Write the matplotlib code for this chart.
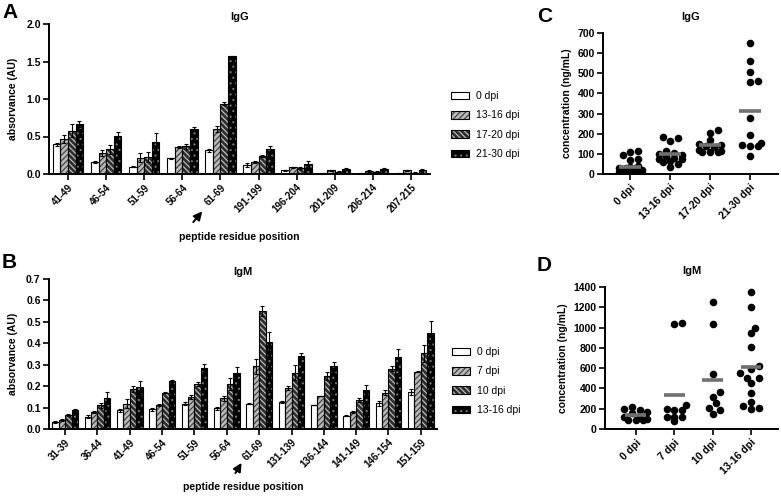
import numpy as np
import matplotlib
matplotlib.use("Agg")
import matplotlib.pyplot as plt
from matplotlib.patches import Patch
from matplotlib.legend_handler import HandlerTuple

plt.rcParams["font.family"] = ["Liberation Sans", "DejaVu Sans"]
plt.rcParams["font.weight"] = "bold"
plt.rcParams["axes.labelweight"] = "bold"
plt.rcParams["axes.titleweight"] = "bold"
plt.rcParams["hatch.linewidth"] = 0.8

# ---------------- data ----------------
# panel A: IgG peptide ELISA
igg_peptides = ["41-49", "46-54", "51-59", "56-64", "61-69", "191-199",
                "196-204", "201-209", "206-214", "207-215"]
igg_groups = ["0 dpi", "13-16 dpi", "17-20 dpi", "21-30 dpi"]
igg_0 = [0.40, 0.16, 0.10, 0.21, 0.32, 0.12, 0.05, 0.01, 0.01, 0.01]
igg_13 = [0.47, 0.28, 0.22, 0.36, 0.60, 0.16, 0.09, 0.05, 0.04, 0.05]
igg_17 = [0.58, 0.33, 0.23, 0.37, 0.94, 0.24, 0.08, 0.03, 0.03, 0.02]
igg_21 = [0.67, 0.51, 0.43, 0.60, 1.57, 0.33, 0.14, 0.07, 0.07, 0.06]
igg_0_err = [0.02, 0.01, 0.01, 0.01, 0.02, 0.03, 0.01, 0.005, 0.005, 0.005]
igg_13_err = [0.05, 0.04, 0.06, 0.01, 0.04, 0.01, 0.01, 0.01, 0.01, 0.01]
igg_17_err = [0.09, 0.06, 0.07, 0.03, 0.02, 0.01, 0.01, 0.005, 0.005, 0.005]
igg_21_err = [0.04, 0.05, 0.12, 0.03, 0.01, 0.04, 0.04, 0.01, 0.01, 0.01]

# panel B: IgM peptide ELISA
igm_peptides = ["31-39", "36-44", "41-49", "46-54", "51-59", "56-64", "61-69",
                "131-139", "136-144", "141-149", "146-154", "151-159"]
igm_groups = ["0 dpi", "7 dpi", "10 dpi", "13-16 dpi"]
igm_0 = [0.033, 0.058, 0.088, 0.092, 0.118, 0.097, 0.118, 0.127, 0.112, 0.062, 0.120, 0.173]
igm_7 = [0.043, 0.080, 0.118, 0.112, 0.150, 0.143, 0.292, 0.193, 0.154, 0.080, 0.170, 0.267]
igm_10 = [0.065, 0.110, 0.188, 0.170, 0.210, 0.210, 0.550, 0.263, 0.248, 0.136, 0.282, 0.354]
igm_13 = [0.090, 0.145, 0.195, 0.225, 0.285, 0.262, 0.408, 0.342, 0.292, 0.182, 0.338, 0.446]
igm_0_err = [0.005, 0.006, 0.007, 0.007, 0.007, 0.008, 0.003, 0.006, 0.002, 0.003, 0.012, 0.012]
igm_7_err = [0.004, 0.003, 0.022, 0.003, 0.010, 0.012, 0.036, 0.010, 0.002, 0.003, 0.010, 0.003]
igm_10_err = [0.005, 0.012, 0.014, 0.003, 0.010, 0.027, 0.022, 0.036, 0.020, 0.008, 0.010, 0.040]
igm_13_err = [0.005, 0.027, 0.030, 0.004, 0.018, 0.027, 0.045, 0.012, 0.020, 0.025, 0.035, 0.060]

# panel C: IgG concentration (ng/mL)
igg_conc_groups = ["0 dpi", "13-16 dpi", "17-20 dpi", "21-30 dpi"]
igg_conc_0 = [115, 108, 95, 75, 68, 40, 35, 30, 28, 25, 22, 20, 18, 15, 12, 10, 8, 5, 5, 3, 2]
igg_conc_13 = [182, 178, 165, 112, 105, 100, 95, 88, 80, 75, 72, 65, 58, 50, 35]
igg_conc_17 = [220, 205, 170, 150, 145, 140, 135, 120, 115, 110, 110, 108]
igg_conc_21 = [650, 560, 505, 462, 455, 280, 192, 152, 145, 140, 138, 88]

# panel D: IgM concentration (ng/mL)
igm_conc_groups = ["0 dpi", "7 dpi", "10 dpi", "13-16 dpi"]
igm_conc_0 = [220, 195, 185, 170, 160, 120, 115, 95, 90, 90, 90]
igm_conc_7 = [1050, 1035, 240, 195, 190, 190, 120, 115, 115, 80]
igm_conc_10 = [1250, 1040, 545, 365, 320, 260, 210, 190, 150]
igm_conc_13 = [1355, 1200, 1000, 945, 810, 620, 590, 550, 505, 500, 450, 355, 270, 230, 205, 200]

# ---------------- styles ----------------
# (face colour, hatch, hatch colour)
bar_styles = [
    ("white", None, "black"),
    ("#b8b8b8", "//////", "#3a3a3a"),
    ("#2e2e2e", "\\\\\\\\\\\\", "#c8c8c8"),
    ("black", "...", "#777777"),
]

W, H = 781, 496
fig = plt.figure(figsize=(W / 100, H / 100), dpi=100)


def px_axes(left, top, right, bottom):
    return fig.add_axes([left / W, 1 - bottom / H, (right - left) / W, (bottom - top) / H])


def style_axes(ax):
    for s in ["top", "right"]:
        ax.spines[s].set_visible(False)
    for s in ["left", "bottom"]:
        ax.spines[s].set_linewidth(1.4)
    ax.tick_params(width=1.2, length=4, labelsize=7.5, pad=2)


def grouped_bars(ax, cats, series, errs, names):
    x = np.arange(len(cats))
    width = 0.2
    handles = []
    for i, (vals, err, name) in enumerate(zip(series, errs, names)):
        fc, hatch, hc = bar_styles[i]
        pos = x + (i - 1.5) * width
        ax.bar(pos, vals, width, color=fc, hatch=hatch, edgecolor=hc, linewidth=0, zorder=2)
        ax.bar(pos, vals, width, fill=False, edgecolor="black", linewidth=0.8, zorder=3)
        ax.errorbar(pos, vals, yerr=err, fmt="none", ecolor="black", elinewidth=0.8,
                    capsize=1.5, capthick=0.8, zorder=4)
        p1 = Patch(facecolor=fc, hatch=hatch, edgecolor=hc, linewidth=0)
        p2 = Patch(fill=False, edgecolor="black", linewidth=0.8)
        handles.append((p1, p2))
    ax.set_xticks(x)
    ax.set_xticklabels(cats, rotation=45, ha="right", rotation_mode="anchor")
    ax.set_xlim(-0.5, len(cats) - 0.5)
    style_axes(ax)
    ax.tick_params(axis="x", labelsize=7)
    return handles


def swarm(vals, dx, dy, maxoff):
    # simple beeswarm: points may overlap a bit, spread limited to +-maxoff
    vals = np.asarray(vals, dtype=float)
    offs = np.zeros(len(vals))
    placed = []
    cands = [0.0]
    k = 1
    while k * dx * 0.5 <= maxoff + 1e-9:
        cands += [k * dx * 0.5, -k * dx * 0.5]
        k += 1
    for i in np.argsort(vals):
        y = vals[i]
        best, bestd = 0.0, -1
        for c in cands:
            d = min([((c - px) / dx) ** 2 + ((y - py) / dy) ** 2 for px, py in placed] + [9])
            if d >= 0.9:
                best = c
                break
            if d > bestd:
                best, bestd = c, d
        offs[i] = best
        placed.append((best, y))
    return offs


def dot_plot(ax, groups, data, dx, dy):
    for i, vals in enumerate(data):
        offs = swarm(vals, dx, dy, 0.32)
        ax.scatter(i + offs, vals, s=30, color="black", zorder=2, linewidths=0)
        ax.hlines(np.mean(vals), i - 0.27, i + 0.27, color="#707070", lw=2.6, zorder=3)
    ax.set_xticks(range(len(groups)))
    ax.set_xticklabels(groups, rotation=45, ha="right", rotation_mode="anchor")
    style_axes(ax)


leg_kw = dict(handler_map={tuple: HandlerTuple(ndivide=1, pad=0)}, loc="upper left",
              bbox_transform=fig.transFigure, frameon=False, handlelength=1.7,
              handleheight=0.75, labelspacing=0.9, handletextpad=0.7,
              borderpad=0, borderaxespad=0, prop={"weight": "normal", "size": 7.5})
arrow_kw = dict(arrowstyle="-|>,head_length=0.5,head_width=0.25", color="black", lw=1.4)

# ---------------- panel A ----------------
axA = px_axes(49, 24, 430, 174)
hA = grouped_bars(axA, igg_peptides, [igg_0, igg_13, igg_17, igg_21],
                  [igg_0_err, igg_13_err, igg_17_err, igg_21_err], igg_groups)
axA.set_ylim(0, 2.0)
axA.set_yticks([0, 0.5, 1.0, 1.5, 2.0])
axA.set_yticklabels(["0.0", "0.5", "1.0", "1.5", "2.0"])
axA.set_ylabel("absorvance (AU)", fontsize=7.5, labelpad=6)
axA.set_xlabel("peptide residue position", fontsize=7.5, labelpad=12)
axA.set_title("IgG", fontsize=8, pad=3)
axA.legend(hA, igg_groups, bbox_to_anchor=(451 / W, 1 - 91 / H), **leg_kw)
axA.annotate("", xy=(3.57, -0.235), xytext=(3.24, -0.335), xycoords=axA.get_xaxis_transform(),
             textcoords=axA.get_xaxis_transform(), annotation_clip=False, arrowprops=arrow_kw)

# ---------------- panel B ----------------
axB = px_axes(49, 279, 437, 429)
hB = grouped_bars(axB, igm_peptides, [igm_0, igm_7, igm_10, igm_13],
                  [igm_0_err, igm_7_err, igm_10_err, igm_13_err], igm_groups)
axB.set_ylim(0, 0.7)
axB.set_yticks(np.arange(0, 0.71, 0.1))
axB.set_yticklabels([f"{v:.1f}" for v in np.arange(0, 0.71, 0.1)])
axB.set_ylabel("absorvance (AU)", fontsize=7.5, labelpad=6)
axB.set_xlabel("peptide residue position", fontsize=7.5, labelpad=9)
axB.set_title("IgM", fontsize=8, pad=3)
axB.legend(hB, igm_groups, bbox_to_anchor=(452 / W, 1 - 347 / H), **leg_kw)
axB.annotate("", xy=(5.5, -0.21), xytext=(5.22, -0.31), xycoords=axB.get_xaxis_transform(),
             textcoords=axB.get_xaxis_transform(), annotation_clip=False, arrowprops=arrow_kw)

# ---------------- panel C ----------------
axC = px_axes(603, 33, 778, 174)
dot_plot(axC, igg_conc_groups, [igg_conc_0, igg_conc_13, igg_conc_17, igg_conc_21], 0.19, 34)
axC.set_xlim(-0.68, 3.7)
axC.set_ylim(0, 700)
axC.set_yticks(range(0, 701, 100))
axC.set_ylabel("concentration (ng/mL)", fontsize=7.5, labelpad=4)
axC.set_title("IgG", fontsize=8, pad=9)

# ---------------- panel D ----------------
axD = px_axes(605, 287, 778, 429)
dot_plot(axD, igm_conc_groups, [igm_conc_0, igm_conc_7, igm_conc_10, igm_conc_13], 0.2, 68)
axD.set_xlim(-0.8, 3.7)
axD.set_ylim(0, 1400)
axD.set_yticks(range(0, 1401, 200))
axD.set_ylabel("concentration (ng/mL)", fontsize=7.5, labelpad=4)
axD.set_title("IgM", fontsize=8, pad=9)

# panel letters
for letter, (xp, yp) in {"A": (2, 3), "B": (2, 253), "C": (537, 7), "D": (537, 256)}.items():
    fig.text(xp / W, 1 - yp / H, letter, fontsize=15, fontweight="bold", va="top", ha="left")

fig.savefig("out.png", dpi=100)
